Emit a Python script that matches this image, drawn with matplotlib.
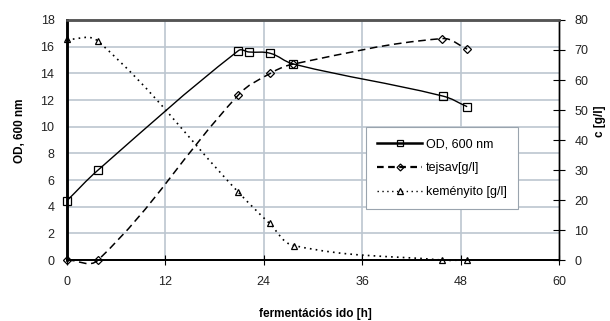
import matplotlib
matplotlib.use("Agg")
import matplotlib.pyplot as plt
import numpy as np
from matplotlib.path import Path
from matplotlib.patches import PathPatch
from matplotlib.lines import Line2D

plt.rcParams["font.family"] = ["Liberation Sans", "DejaVu Sans"]

# fermentation time [h]
od_time = [0.0, 3.8, 20.9, 22.2, 24.8, 27.6, 45.8, 48.8]
od_vals = [4.45, 6.75, 15.7, 15.6, 15.5, 14.7, 12.3, 11.5]

lac_time = [0.0, 3.8, 20.9, 24.8, 27.6, 45.7, 48.8]
lac_vals = [0.0, 0.0, 55.0, 62.2, 65.3, 73.8, 70.3]

starch_time = [0.0, 3.8, 20.9, 24.7, 27.7, 45.7, 48.8]
starch_vals = [73.6, 72.9, 22.6, 12.2, 4.8, 0.0, 0.0]

x_ticks = [0, 12, 24, 36, 48, 60]
od_ticks = list(range(0, 19, 2))
c_ticks = list(range(0, 81, 10))

GRID = "#bcc6d0"


def smooth_path(a, xs, ys, k=0.4):
    # Excel-like smoothed line, built in pixel space so that tangents scale
    # with the neighbouring segment lengths
    pts = a.transData.transform(np.column_stack([xs, ys]))
    n = len(pts)
    verts = [pts[0]]
    codes = [Path.MOVETO]

    def tangent(i):
        p_prev = pts[i - 1] if i > 0 else pts[i]
        p_next = pts[i + 1] if i < n - 1 else pts[i]
        d = np.hypot(*(pts[i] - p_prev)) + np.hypot(*(p_next - pts[i]))
        return (p_next - p_prev) / d

    for i in range(n - 1):
        seg = np.hypot(*(pts[i + 1] - pts[i]))
        c1 = pts[i] + tangent(i) * seg * k
        c2 = pts[i + 1] - tangent(i + 1) * seg * k
        verts += [c1, c2, pts[i + 1]]
        codes += [Path.CURVE4] * 3
    data_verts = a.transData.inverted().transform(np.array(verts))
    return Path(data_verts, codes)


fig = plt.figure(figsize=(6.1, 3.21), dpi=100)
ax = fig.add_axes([0.1098, 0.19, 0.8066, 0.7477])
ax2 = ax.twinx()

ax.set_xlim(0, 60)
ax.set_ylim(0, 18)
ax2.set_ylim(0, 80)

ax.set_xticks(x_ticks)
ax.set_yticks(od_ticks)
ax2.set_yticks(c_ticks)

for y in od_ticks[1:]:
    ax.axhline(y, color=GRID, lw=1.2, zorder=0)
for x in x_ticks[1:-1]:
    ax.axvline(x, color=GRID, lw=1.2, zorder=0)

# OD on left axis
ax.add_patch(PathPatch(smooth_path(ax, od_time, od_vals), fill=False, ec="black",
                       lw=1.0, zorder=3, clip_on=False))
ax.plot(od_time, od_vals, ls="none", marker="s", ms=5.2, mfc="none",
        mec="black", mew=0.9, zorder=4, clip_on=False)

# lactic acid and starch on right axis
ax2.add_patch(PathPatch(smooth_path(ax2, lac_time, lac_vals), fill=False, ec="black",
                        lw=1.1, ls=(0, (5, 3)), zorder=3, clip_on=False))
ax2.plot(lac_time, lac_vals, ls="none", marker="D", ms=3.8, mfc="none",
         mec="black", mew=0.9, zorder=4, clip_on=False)

ax2.add_patch(PathPatch(smooth_path(ax2, starch_time, starch_vals), fill=False,
                        ec="black", lw=1.2, ls=(0, (1, 2.5)), zorder=3, clip_on=False))
ax2.plot(starch_time, starch_vals, ls="none", marker="^", ms=4.8, mfc="none",
         mec="black", mew=0.9, zorder=4, clip_on=False)

for a in (ax, ax2):
    a.spines["top"].set_color("#555555")
    a.spines["top"].set_linewidth(1.8)
    a.spines["left"].set_linewidth(1.8)
    a.spines["bottom"].set_linewidth(1.3)
    a.spines["right"].set_linewidth(1.0)
    a.patch.set_visible(False)

ax.tick_params(axis="y", length=0, pad=9, labelsize=9, labelcolor="#222222")
ax.tick_params(axis="x", direction="inout", length=7, pad=8, labelsize=9,
               labelcolor="#222222")
ax2.tick_params(axis="y", direction="inout", length=8, pad=7, labelsize=9,
                labelcolor="#222222")

ax.set_xlabel("fermentációs ido [h]", fontsize=8.5, fontweight="bold")
ax.xaxis.set_label_coords(0.505, -0.2)
ax.set_ylabel("OD, 600 nm", fontsize=8.5, fontweight="bold")
ax.yaxis.set_label_coords(-0.083, 0.54)
ax2.set_ylabel("c [g/l]", fontsize=8.5, fontweight="bold", rotation=90)
ax2.yaxis.set_label_coords(1.072, 0.58)

handles = [
    Line2D([], [], color="black", lw=1.8, marker="s", ms=4.5, mfc="none", mew=0.9),
    Line2D([], [], color="black", lw=1.6, ls=(0, (3, 2)), marker="D", ms=3.5,
           mfc="none", mew=0.9),
    Line2D([], [], color="black", lw=1.0, ls=(0, (1, 2.5)), marker="^", ms=4.2,
           mfc="none", mew=0.9),
]
labels = ["OD, 600 nm", "tejsav[g/l]", "keményito [g/l]"]
leg = ax2.legend(handles, labels, loc="upper left", bbox_to_anchor=(0.608, 0.554),
                 borderaxespad=0, fontsize=9, frameon=True, fancybox=False,
                 framealpha=1, edgecolor="#9aa4ae", handlelength=3.6,
                 handletextpad=0.3, borderpad=0.9, labelspacing=0.95)
leg.get_frame().set_linewidth(0.8)
leg.set_zorder(5)

fig.savefig("out.png", dpi=100)
